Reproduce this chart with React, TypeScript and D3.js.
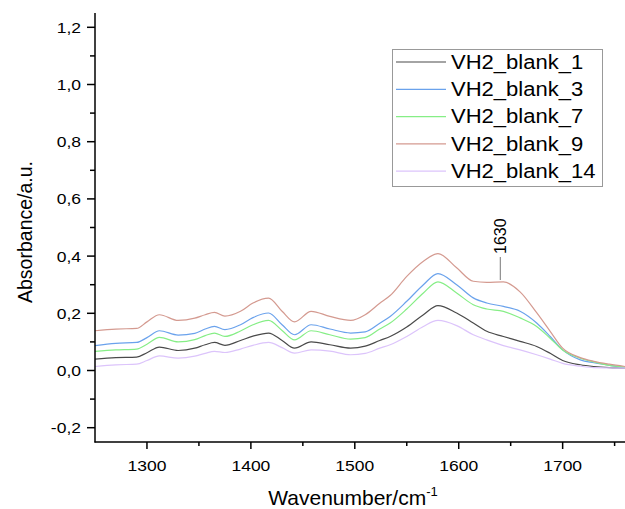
import React from "react";
import * as d3 from "d3";

const wavenumbers = [1250, 1270, 1290, 1300, 1312, 1330, 1346, 1356, 1365, 1375, 1390, 1402, 1417, 1430, 1442, 1458, 1476, 1496, 1510, 1524, 1534, 1550, 1566, 1580, 1598, 1614, 1627, 1643, 1659, 1675, 1688, 1700, 1717, 1730, 1745, 1760];

const blank1 = [0.040, 0.045, 0.047, 0.062, 0.082, 0.070, 0.078, 0.090, 0.098, 0.088, 0.105, 0.120, 0.131, 0.105, 0.078, 0.100, 0.090, 0.078, 0.085, 0.105, 0.119, 0.152, 0.195, 0.227, 0.201, 0.166, 0.137, 0.119, 0.102, 0.084, 0.060, 0.035, 0.020, 0.014, 0.010, 0.008];
const blank3 = [0.087, 0.095, 0.098, 0.115, 0.139, 0.124, 0.130, 0.145, 0.154, 0.143, 0.160, 0.185, 0.201, 0.160, 0.125, 0.160, 0.145, 0.131, 0.135, 0.165, 0.189, 0.242, 0.300, 0.339, 0.300, 0.254, 0.236, 0.224, 0.207, 0.166, 0.119, 0.072, 0.037, 0.027, 0.018, 0.010];
const blank7 = [0.067, 0.072, 0.075, 0.092, 0.116, 0.100, 0.108, 0.122, 0.131, 0.119, 0.138, 0.160, 0.175, 0.140, 0.107, 0.139, 0.125, 0.110, 0.115, 0.145, 0.166, 0.215, 0.271, 0.310, 0.271, 0.230, 0.215, 0.207, 0.184, 0.154, 0.113, 0.072, 0.043, 0.030, 0.018, 0.012];
const blank9 = [0.139, 0.145, 0.147, 0.170, 0.195, 0.175, 0.183, 0.195, 0.203, 0.190, 0.207, 0.236, 0.253, 0.207, 0.170, 0.207, 0.189, 0.175, 0.195, 0.235, 0.262, 0.329, 0.382, 0.409, 0.359, 0.312, 0.308, 0.310, 0.275, 0.202, 0.137, 0.078, 0.045, 0.032, 0.022, 0.014];
const blank14 = [0.014, 0.020, 0.022, 0.035, 0.051, 0.043, 0.050, 0.060, 0.067, 0.063, 0.075, 0.088, 0.098, 0.080, 0.061, 0.072, 0.068, 0.055, 0.060, 0.078, 0.090, 0.119, 0.154, 0.175, 0.157, 0.125, 0.107, 0.087, 0.072, 0.055, 0.040, 0.025, 0.015, 0.010, 0.009, 0.008];

const seriesNames = ["VH2_blank_1", "VH2_blank_3", "VH2_blank_7", "VH2_blank_9", "VH2_blank_14"];
const seriesValues = [blank1, blank3, blank7, blank9, blank14];
const seriesColors = ["#4a4a4a", "#6aa2ec", "#86ee86", "#d49a90", "#dcc4fb"];

const xMajorTicks = [1300, 1400, 1500, 1600, 1700];
const xMinorTicks = [1350, 1450, 1550, 1650, 1750];
const yMajorTicks = [-0.2, 0, 0.2, 0.4, 0.6, 0.8, 1.0, 1.2];
const yMinorTicks = [-0.1, 0.1, 0.3, 0.5, 0.7, 0.9, 1.1];

const annotationLabel = "1630";
const annotationX = 1640;

export default function App() {
  const W = 625, H = 509;
  const left = 95, right = 625, top = 13, bottom = 442;
  const x = d3.scaleLinear().domain([1250, 1760]).range([left, right]);
  const y = d3.scaleLinear().domain([-0.25, 1.25]).range([bottom, top]);
  const fmt = (v: number) => d3.format(".1f")(v).replace(".", ",").replace("−", "-");
  const line = d3.line<[number, number]>()
    .x(d => x(d[0]))
    .y(d => y(d[1]))
    .curve(d3.curveMonotoneX);

  const font = "Arial, 'Liberation Sans', sans-serif";
  const sx = 1.13;

  return (
    <svg width={W} height={H} style={{ position: "absolute", left: 0, top: 0, background: "#fff" }} fontFamily={font}>
      <defs>
        <clipPath id="plot">
          <rect x={left} y={top} width={right - left} height={bottom - top} />
        </clipPath>
      </defs>
      <g clipPath="url(#plot)">
        {seriesValues.map((vals, i) => (
          <path key={i}
            d={line(wavenumbers.map((w, j) => [w, vals[j]] as [number, number])) || ""}
            fill="none" stroke={seriesColors[i]} strokeWidth={1.2} />
        ))}
      </g>

      {/* axes */}
      <line x1={left} x2={left} y1={top} y2={bottom + 0.5} stroke="#000" strokeWidth={1.5} />
      <line x1={left - 0.5} x2={right} y1={bottom} y2={bottom} stroke="#000" strokeWidth={1.5} />
      {yMajorTicks.map(t => (
        <g key={"ym" + t}>
          <line x1={left - 8} x2={left} y1={y(t)} y2={y(t)} stroke="#000" strokeWidth={1.5} />
          <text transform={`translate(${left - 14},${y(t)}) scale(${sx},1)`} dy="0.35em" textAnchor="end" fontSize={15.5} fill="#000">{fmt(t)}</text>
        </g>
      ))}
      {yMinorTicks.map(t => (
        <line key={"yn" + t} x1={left - 5} x2={left} y1={y(t)} y2={y(t)} stroke="#000" strokeWidth={1.5} />
      ))}
      {xMajorTicks.map(t => (
        <g key={"xm" + t}>
          <line x1={x(t)} x2={x(t)} y1={bottom} y2={bottom + 7} stroke="#000" strokeWidth={1.5} />
          <text transform={`translate(${x(t)},${bottom + 29}) scale(${sx},1)`} textAnchor="middle" fontSize={15.5} fill="#000">{t}</text>
        </g>
      ))}
      {xMinorTicks.map(t => (
        <line key={"xn" + t} x1={x(t)} x2={x(t)} y1={bottom} y2={bottom + 4} stroke="#000" strokeWidth={1.5} />
      ))}

      {/* axis titles */}
      <text x={353} y={505} textAnchor="middle" fontSize={21} fill="#000">
        Wavenumber/cm<tspan fontSize={13} dy={-9}>-1</tspan>
      </text>
      <text transform={`translate(32,232) rotate(-90)`} textAnchor="middle" fontSize={19.5} fill="#000">Absorbance/a.u.</text>

      {/* annotation */}
      <line x1={x(annotationX)} x2={x(annotationX)} y1={257} y2={280} stroke="#777" strokeWidth={1} />
      <text transform={`translate(${x(annotationX) + 6},254) rotate(-90)`} textAnchor="start" fontSize={16} fill="#000">{annotationLabel}</text>

      {/* legend */}
      <rect x={392.5} y={49.5} width={210} height={137} fill="#fff" stroke="#999" strokeWidth={1} />
      {seriesNames.map((n, i) => (
        <g key={n}>
          <line x1={396} x2={446} y1={62 + i * 27.3} y2={62 + i * 27.3} stroke={seriesColors[i]} strokeWidth={1.2} />
          <text transform={`translate(451,${62 + i * 27.3}) scale(${sx},1)`} dy="0.35em" fontSize={19.5} fill="#000">{n}</text>
        </g>
      ))}
    </svg>
  );
}
